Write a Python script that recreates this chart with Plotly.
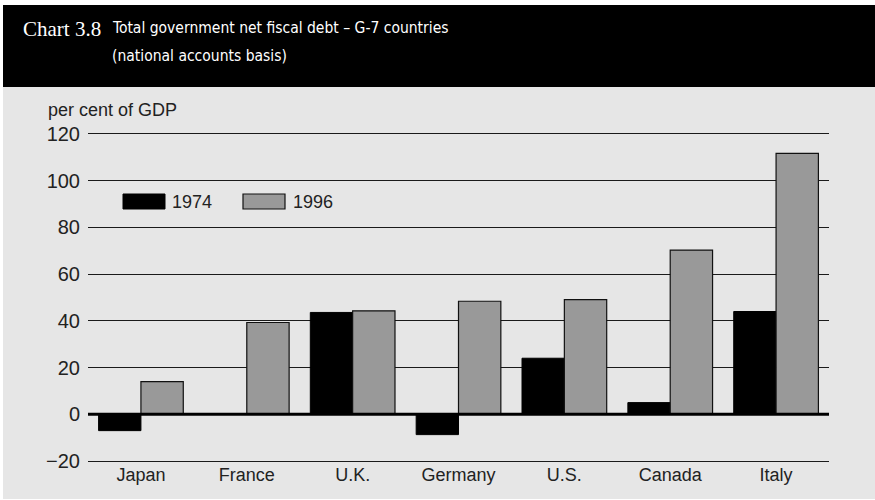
import plotly.graph_objects as go

countries = ["Japan", "France", "U.K.", "Germany", "U.S.", "Canada", "Italy"]
debt_1974 = [-7, 0, 43.6, -8.7, 24, 5, 44]
debt_1996 = [14, 39.3, 44.3, 48.4, 49.1, 70.3, 111.7]
series_names = ["1974", "1996"]
y_ticks = [-20, 0, 20, 40, 60, 80, 100, 120]
title_label = "Chart 3.8"
title_lines = ["Total government net fiscal debt – G-7 countries", "(national accounts basis)"]
unit_label = "per cent of GDP"

W, H = 875, 500
L, R, T, B = 88, 829, 134, 461  # plot area in pixels


def px(x):
    return (x - L) / (R - L)


def py(y):
    return (B - y) / (B - T)


BLACK = "#000000"
GREY = "#999999"
BG = "#e6e6e6"
TXT = "#222222"
SANS = "Liberation Sans, Arial, sans-serif"
COND = "DejaVu Sans Condensed, Liberation Sans Narrow, Arial Narrow, sans-serif"

fig = go.Figure()
fig.add_trace(go.Bar(x=countries, y=debt_1974, name=series_names[0],
                     marker=dict(color=BLACK, line=dict(color=BLACK, width=1))))
fig.add_trace(go.Bar(x=countries, y=debt_1996, name=series_names[1],
                     marker=dict(color=GREY, line=dict(color="#111111", width=1.2))))

shapes = [
    dict(type="rect", xref="paper", yref="paper", x0=px(3), x1=px(875), y0=py(499), y1=py(87),
         fillcolor=BG, line=dict(width=0), layer="below"),
    dict(type="rect", xref="paper", yref="paper", x0=px(3), x1=px(875), y0=py(87), y1=py(5),
         fillcolor=BLACK, line=dict(width=0), layer="below"),
    dict(type="rect", xref="paper", yref="paper", x0=px(123), x1=px(165), y0=py(209), y1=py(194),
         fillcolor=BLACK, line=dict(color=BLACK, width=1)),
    dict(type="rect", xref="paper", yref="paper", x0=px(243), x1=px(285), y0=py(209), y1=py(194),
         fillcolor=GREY, line=dict(color="#111111", width=1.2)),
    dict(type="line", xref="paper", yref="y", x0=0, x1=1, y0=0, y1=0,
         line=dict(color=BLACK, width=3)),
]

annotations = [
    dict(text=title_label, xref="paper", yref="paper", x=px(21), y=py(29), xanchor="left",
         yanchor="middle", showarrow=False,
         font=dict(family="Liberation Serif, DejaVu Serif, serif", size=21, color="white")),
    dict(text=title_lines[0], xref="paper", yref="paper", x=px(110), y=py(28.5), xanchor="left",
         yanchor="middle", showarrow=False, font=dict(family=COND, size=15.5, color="white")),
    dict(text=title_lines[1], xref="paper", yref="paper", x=px(110), y=py(56), xanchor="left",
         yanchor="middle", showarrow=False, font=dict(family=COND, size=15.5, color="white")),
    dict(text=unit_label, xref="paper", yref="paper", x=px(46), y=py(110), xanchor="left",
         yanchor="middle", showarrow=False, font=dict(family=SANS, size=18, color=TXT)),
    dict(text=series_names[0], xref="paper", yref="paper", x=px(170), y=py(202), xanchor="left",
         yanchor="middle", showarrow=False, font=dict(family=SANS, size=18, color=TXT)),
    dict(text=series_names[1], xref="paper", yref="paper", x=px(291), y=py(202), xanchor="left",
         yanchor="middle", showarrow=False, font=dict(family=SANS, size=18, color=TXT)),
]

fig.update_layout(
    width=W, height=H,
    margin=dict(l=L, r=W - R, t=T, b=H - B, pad=0),
    paper_bgcolor="white",
    plot_bgcolor=BG,
    barmode="group",
    bargap=0.2,
    bargroupgap=0,
    showlegend=False,
    shapes=shapes,
    annotations=annotations,
    font=dict(family=SANS, color=TXT),
)
fig.update_xaxes(showgrid=False, showline=True, mirror=True, linecolor="#1a1a1a", linewidth=1.3,
                 ticks="", tickfont=dict(size=18, color=TXT), zeroline=False,
                 ticklabelstandoff=-3)
fig.update_yaxes(range=[-20, 120], tickvals=y_ticks, showgrid=True, gridcolor="#1a1a1a",
                 gridwidth=1.3, zeroline=False, showline=False, ticks="",
                 tickfont=dict(family=SANS, size=20, color=TXT), ticklabelstandoff=7)

fig.write_html("out.html")
